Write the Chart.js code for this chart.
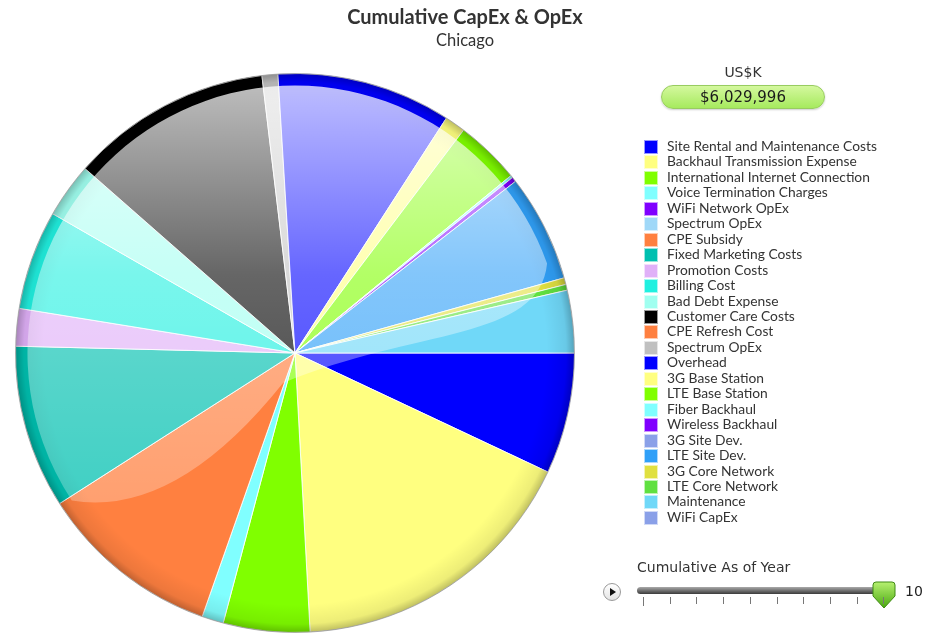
<!DOCTYPE html>
<html><head><meta charset="utf-8">
<script src="https://cdn.jsdelivr.net/npm/chart.js@4.4.0/dist/chart.umd.min.js"></script>
<style>
body{margin:0;background:#fff;width:940px;height:634px;overflow:hidden;position:relative;font-family:Lato,sans-serif;color:#333}
#c{position:absolute;left:0;top:0}
.t{position:absolute;white-space:nowrap}
#title{left:0;width:930px;top:4px;text-align:center;font-weight:bold;font-size:20px;color:#333}
#sub{left:0;width:930px;top:30px;text-align:center;font-size:16.5px;color:#333}
#unit{left:661px;width:164px;top:64px;text-align:center;font:14px "DejaVu Sans";color:#333}
#total{position:absolute;left:661px;top:85px;width:162px;height:22px;border-radius:12px;background:linear-gradient(#d4f89e,#a6ea5e);border:1px solid #98cc60;text-align:center;font:15px/22px "DejaVu Sans";color:#1a1a1a;box-shadow:0 1px 2px rgba(0,0,0,.2)}
#legend{position:absolute;left:644px;top:139px;font-size:13.8px;color:#333}
.li{height:15.46px;position:relative}
.sw{position:absolute;left:0;top:1px;width:12px;height:12px;border:1px solid rgba(255,255,255,.6)}
.lt{position:absolute;left:23px;top:-1px;white-space:nowrap;line-height:15px}
#slabel{left:637px;top:559px;font:14px "DejaVu Sans";color:#333}
#play{position:absolute;left:603px;top:583px;width:16px;height:16px;border-radius:50%;background:linear-gradient(#fff,#e4e4e4);border:1px solid #999}
#play:after{content:"";position:absolute;left:6px;top:4px;border-left:6px solid #111;border-top:4px solid transparent;border-bottom:4px solid transparent}
#track{position:absolute;left:637px;top:587px;width:248px;height:7px;border-radius:4px;background:linear-gradient(#aaa,#3a3a3a)}
.tk{position:absolute;top:597px;width:1px;height:7px;background:#777}
#yr{left:905px;top:583px;font:14px "DejaVu Sans";color:#222}
#thumb{position:absolute;left:870px;top:580px}
</style>
</head><body>
<canvas id="c" width="940" height="634"></canvas>
<div class="t" id="title">Cumulative CapEx &amp; OpEx</div>
<div class="t" id="sub">Chicago</div>
<div class="t" id="unit">US$K</div>
<div id="total"></div>
<div id="legend"></div>
<div class="t" id="slabel">Cumulative As of Year</div>
<div id="play"></div>
<div id="track"></div>
<svg id="thumb" width="28" height="30" viewBox="0 0 28 30">
  <defs><linearGradient id="g" x1="0" y1="0" x2="0" y2="1"><stop offset="0" stop-color="#b6f070"/><stop offset="1" stop-color="#4aa810"/></linearGradient></defs>
  <path d="M3 5 Q3 2 6 2 L22 2 Q25 2 25 5 L25 16 L14 28 L3 16 Z" fill="url(#g)" stroke="#3f8a14" stroke-width="1"/>
</svg>
<div class="t" id="yr">10</div>
<script>
const labels = ['Site Rental and Maintenance Costs','Backhaul Transmission Expense','International Internet Connection','Voice Termination Charges','WiFi Network OpEx','Spectrum OpEx','CPE Subsidy','Fixed Marketing Costs','Promotion Costs','Billing Cost','Bad Debt Expense','Customer Care Costs','CPE Refresh Cost','Spectrum OpEx','Overhead','3G Base Station','LTE Base Station','Fiber Backhaul','Wireless Backhaul','3G Site Dev.','LTE Site Dev.','3G Core Network','LTE Core Network','Maintenance','WiFi CapEx'];
const values = [422100,1033471,301500,75375,0,0,636500,569500,130650,346725,190950,701825,0,55275,608025,72025,226125,8375,16750,0,373525,23450,20100,217750,0];
const colors = ['#0000ff','#ffff80','#80ff00','#80ffff','#8000ff','#a0d8f8','#ff8040','#00c0b0','#e0b0f8','#20f0e0','#a0fff0','#000000','#ff8040','#c0c0c0','#0000ff','#ffff80','#80ff00','#80ffff','#8000ff','#8aa0e8','#30a0f8','#e0e040','#60e040','#70d8f8','#8aa0e8'];
const yearTicks = [1,2,3,4,5,6,7,8,9,10];
const year = 10;

function num(n){return Number(n||0).toLocaleString('en-US')}

document.getElementById('total').textContent = '$'+num(values.reduce((a,b)=>a+b,0));
document.getElementById('yr').textContent = year;

const lg = document.getElementById('legend');
labels.forEach((l,i)=>{
  const d=document.createElement('div'); d.className='li';
  d.innerHTML=`<div class="sw" style="background:${colors[i]}"></div><div class="lt">${l}</div>`;
  lg.appendChild(d);
});

yearTicks.forEach((y,i)=>{
  const t=document.createElement('div'); t.className='tk';
  t.style.left=(643+i*26.7)+'px';
  if(i==0){t.style.height='9px';}
  document.body.appendChild(t);
});

// glossy look: highlight on the upper left plus dark rim
const gloss = {
  id:'gloss',
  afterDatasetsDraw(chart){
    const a = chart.getDatasetMeta(0).data[0]; if(!a) return;
    const ctx = chart.ctx, cx=a.x, cy=a.y, R=a.outerRadius;
    const s = R/280;
    ctx.save();
    ctx.beginPath(); ctx.arc(cx,cy,R,0,Math.PI*2); ctx.clip();
    const rg = ctx.createRadialGradient(cx,cy,R*0.9,cx,cy,R);
    rg.addColorStop(0,'rgba(0,0,0,0)');
    rg.addColorStop(0.7,'rgba(0,0,0,0.07)');
    rg.addColorStop(1,'rgba(0,0,0,0.25)');
    ctx.fillStyle=rg; ctx.fillRect(cx-R,cy-R,2*R,2*R);
    const Ri = R-12*s;
    const a0 = Math.atan2(144,-218), a1 = Math.atan2(-86,242);
    ctx.beginPath();
    ctx.moveTo(cx+Ri*Math.cos(a0), cy+Ri*Math.sin(a0));
    ctx.quadraticCurveTo(cx-120*s, cy+165*s, cx-12*s, cy+30*s);
    ctx.bezierCurveTo(cx+120*s, cy-25*s, cx+245*s, cy-12*s, cx+Ri*Math.cos(a1), cy+Ri*Math.sin(a1));
    ctx.arc(cx,cy,Ri,a1,a0,true);
    ctx.closePath();
    const lg2 = ctx.createLinearGradient(0,cy-R,0,cy+R*0.6);
    lg2.addColorStop(0,'rgba(255,255,255,0.76)');
    lg2.addColorStop(0.45,'rgba(255,255,255,0.4)');
    lg2.addColorStop(1,'rgba(255,255,255,0.24)');
    ctx.fillStyle=lg2; ctx.fill();
    ctx.restore();
    ctx.beginPath(); ctx.arc(cx,cy,R,0,Math.PI*2);
    ctx.strokeStyle='rgba(120,120,120,0.5)'; ctx.lineWidth=1; ctx.stroke();
  }
};

new Chart(document.getElementById('c'),{
  type:'pie',
  data:{labels:labels,datasets:[{data:values,backgroundColor:colors,borderColor:'rgba(255,255,255,0.85)',borderWidth:1}]},
  options:{
    responsive:false,animation:false,rotation:90,
    layout:{padding:{left:15,right:365,top:73,bottom:1}},
    plugins:{legend:{display:false},tooltip:{enabled:false},title:{display:false}}
  },
  plugins:[gloss]
});
</script>
</body></html>
